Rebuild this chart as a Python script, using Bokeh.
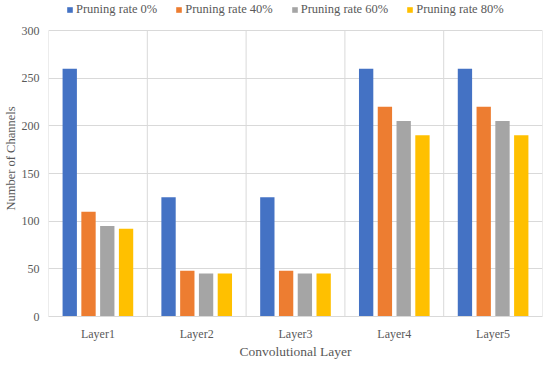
from bokeh.plotting import figure
from bokeh.models import Range1d, FixedTicker, Legend, LegendItem
from bokeh.embed import file_html
from bokeh.resources import INLINE

layers = ["Layer1", "Layer2", "Layer3", "Layer4", "Layer5"]
rate_0 = [260, 125, 125, 260, 260]
rate_40 = [110, 48, 48, 220, 220]
rate_60 = [95, 45, 45, 205, 205]
rate_80 = [92, 45, 45, 190, 190]
series_names = ["Pruning rate 0%", "Pruning rate 40%", "Pruning rate 60%", "Pruning rate 80%"]
y_ticks = [0, 50, 100, 150, 200, 250, 300]
colors = ["#4472C4", "#ED7D31", "#A5A5A5", "#FFC000"]

FONT = "Liberation Serif"
TXT = "#595959"
GRID = "#d9d9d9"

FW, FH = 494, 316
TOP_PAD = 30  # pixels between frame top and the top gridline (room for the legend)
ymax = max(y_ticks)
y_top = ymax * FH / (FH - TOP_PAD)

p = figure(frame_width=FW, frame_height=FH, x_range=Range1d(0, len(layers)), y_range=Range1d(0, y_top),
           output_backend="svg", toolbar_location=None,
           min_border_top=0, min_border_right=2, min_border_left=0, min_border_bottom=0)
p.outline_line_color = None

# vertical separators between categories, limited to the value range
bounds = list(range(len(layers) + 1))
p.segment(x0=bounds, y0=[0] * len(bounds), x1=bounds, y1=[ymax] * len(bounds),
          line_color=GRID, line_width=1)

offsets = [-0.285, -0.095, 0.095, 0.285]
centers = [i + 0.5 for i in range(len(layers))]
items = []
for vals, name, col, off in zip([rate_0, rate_40, rate_60, rate_80], series_names, colors, offsets):
    xs = [c + off for c in centers]
    r = p.vbar(x=xs, top=vals, width=0.145, bottom=0, fill_color=col, line_color=None)
    items.append(LegendItem(label=name, renderers=[r]))

legend = Legend(items=items, orientation="horizontal", location=(18, FH - 17))
legend.label_text_font = FONT
legend.label_text_font_size = "12.5px"
legend.label_text_color = TXT
legend.glyph_width = 7
legend.glyph_height = 7
legend.label_standoff = 3
legend.spacing = 18
legend.padding = 0
legend.margin = 0
legend.border_line_color = None
legend.background_fill_alpha = 0
p.add_layout(legend)

# x axis
p.xaxis.ticker = FixedTicker(ticks=centers)
p.xaxis.major_label_overrides = {c: l for c, l in zip(centers, layers)}
p.xaxis.major_tick_line_color = None
p.xaxis.minor_tick_line_color = None
p.xaxis.axis_line_color = GRID
p.xaxis.major_label_text_font = FONT
p.xaxis.major_label_text_font_size = "12px"
p.xaxis.major_label_text_color = TXT
p.xaxis.major_label_standoff = 4
p.xaxis.axis_label = "Convolutional Layer"
p.xaxis.axis_label_text_font = FONT
p.xaxis.axis_label_text_font_size = "13.5px"
p.xaxis.axis_label_text_font_style = "normal"
p.xaxis.axis_label_text_color = TXT
p.xaxis.axis_label_standoff = 0

# y axis
p.yaxis.ticker = FixedTicker(ticks=y_ticks)
p.yaxis.major_tick_line_color = None
p.yaxis.minor_tick_line_color = None
p.yaxis.axis_line_color = None
p.yaxis.major_label_text_font = FONT
p.yaxis.major_label_text_font_size = "12px"
p.yaxis.major_label_text_color = TXT
p.yaxis.major_label_standoff = 3
p.yaxis.axis_label = "Number of Channels"
p.yaxis.axis_label_text_font = FONT
p.yaxis.axis_label_text_font_size = "12.5px"
p.yaxis.axis_label_text_font_style = "normal"
p.yaxis.axis_label_text_color = TXT
p.yaxis.axis_label_standoff = 1

p.xgrid.grid_line_color = None
p.ygrid.grid_line_color = GRID

open("out.html", "w").write(file_html(p, INLINE))
